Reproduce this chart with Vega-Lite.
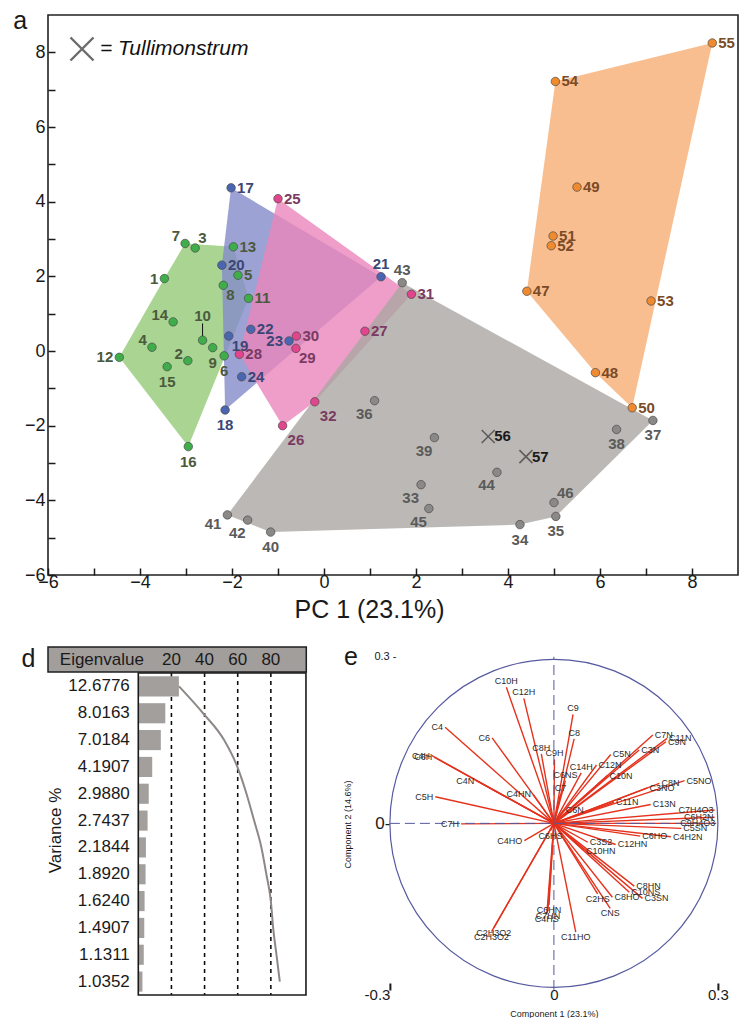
{
"$schema": "https://vega.github.io/schema/vega-lite/v6.json",
"padding": {"left": 11, "top": 7, "right": 0, "bottom": 0},
"background": "white",
"config": {"font": "Liberation Sans", "view": {"stroke": null}, "axis": {"grid": false, "labelColor": "#1a1a1a", "titleColor": "#1a1a1a", "tickColor": "#1a1a1a", "titleFontWeight": "normal"}},
"datasets": {
"pts": [
{"id":1,"grp":"Fresh","x":-3.47,"y":1.94,"hv":2},
{"id":2,"grp":"Fresh","x":-2.96,"y":-0.26},
{"id":3,"grp":"Fresh","x":-2.80,"y":2.76},
{"id":4,"grp":"Fresh","x":-3.74,"y":0.10},
{"id":5,"grp":"Fresh","x":-1.87,"y":2.03},
{"id":6,"grp":"Fresh","x":-2.17,"y":-0.13},
{"id":7,"grp":"Fresh","x":-3.02,"y":2.88,"hv":3},
{"id":8,"grp":"Fresh","x":-2.19,"y":1.76},
{"id":9,"grp":"Fresh","x":-2.42,"y":0.09},
{"id":10,"grp":"Fresh","x":-2.64,"y":0.29},
{"id":11,"grp":"Fresh","x":-1.64,"y":1.41,"hv":5},
{"id":12,"grp":"Fresh","x":-4.45,"y":-0.17,"hv":1},
{"id":13,"grp":"Fresh","x":-1.97,"y":2.79,"hv":4},
{"id":14,"grp":"Fresh","x":-3.28,"y":0.78},
{"id":15,"grp":"Fresh","x":-3.41,"y":-0.42},
{"id":16,"grp":"Fresh","x":-2.95,"y":-2.56,"hv":6},
{"id":17,"grp":"200°C/250 bar","x":-2.02,"y":4.37,"hv":1},
{"id":18,"grp":"200°C/250 bar","x":-2.15,"y":-1.58,"hv":3},
{"id":19,"grp":"200°C/250 bar","x":-2.07,"y":0.40},
{"id":20,"grp":"200°C/250 bar","x":-2.22,"y":2.30,"hv":4},
{"id":21,"grp":"200°C/250 bar","x":1.24,"y":1.99,"hv":2},
{"id":22,"grp":"200°C/250 bar","x":-1.59,"y":0.58},
{"id":23,"grp":"200°C/250 bar","x":-0.76,"y":0.27},
{"id":24,"grp":"200°C/250 bar","x":-1.79,"y":-0.69},
{"id":25,"grp":"250°C/250 bar","x":-1.00,"y":4.08,"hv":1},
{"id":26,"grp":"250°C/250 bar","x":-0.90,"y":-2.00,"hv":4},
{"id":27,"grp":"250°C/250 bar","x":0.89,"y":0.53},
{"id":28,"grp":"250°C/250 bar","x":-1.84,"y":-0.09,"hv":5},
{"id":29,"grp":"250°C/250 bar","x":-0.61,"y":0.07},
{"id":30,"grp":"250°C/250 bar","x":-0.60,"y":0.40},
{"id":31,"grp":"250°C/250 bar","x":1.90,"y":1.52,"hv":2},
{"id":32,"grp":"250°C/250 bar","x":-0.20,"y":-1.36,"hv":3},
{"id":33,"grp":"Fossil","x":2.11,"y":-3.58},
{"id":34,"grp":"Fossil","x":4.26,"y":-4.65,"hv":4},
{"id":35,"grp":"Fossil","x":5.04,"y":-4.43,"hv":3},
{"id":36,"grp":"Fossil","x":1.10,"y":-1.33},
{"id":37,"grp":"Fossil","x":7.15,"y":-1.86,"hv":2},
{"id":38,"grp":"Fossil","x":6.36,"y":-2.10},
{"id":39,"grp":"Fossil","x":2.40,"y":-2.32},
{"id":40,"grp":"Fossil","x":-1.16,"y":-4.85,"hv":5},
{"id":41,"grp":"Fossil","x":-2.10,"y":-4.39,"hv":6},
{"id":42,"grp":"Fossil","x":-1.66,"y":-4.53},
{"id":43,"grp":"Fossil","x":1.70,"y":1.83,"hv":1},
{"id":44,"grp":"Fossil","x":3.76,"y":-3.25},
{"id":45,"grp":"Fossil","x":2.28,"y":-4.22},
{"id":46,"grp":"Fossil","x":5.00,"y":-4.06},
{"id":47,"grp":"Negative","x":4.41,"y":1.60,"hv":5},
{"id":48,"grp":"Negative","x":5.90,"y":-0.58,"hv":4},
{"id":49,"grp":"Negative","x":5.50,"y":4.39},
{"id":50,"grp":"Negative","x":6.70,"y":-1.52,"hv":3},
{"id":51,"grp":"Negative","x":4.98,"y":3.08},
{"id":52,"grp":"Negative","x":4.94,"y":2.82},
{"id":53,"grp":"Negative","x":7.11,"y":1.34},
{"id":54,"grp":"Negative","x":5.03,"y":7.22,"hv":1},
{"id":55,"grp":"Negative","x":8.44,"y":8.25,"hv":2},
{"id":56,"grp":"Tullimonstrum","x":3.57,"y":-2.29},
{"id":57,"grp":"Tullimonstrum","x":4.39,"y":-2.83}
],
"eig": [
{"eig":"12.6776","pct":24.5,"cum":24.6},
{"eig":"8.0163","pct":16.3,"cum":39.1},
{"eig":"7.0184","pct":13.6,"cum":51.8},
{"eig":"4.1907","pct":8.4,"cum":59.8},
{"eig":"2.9880","pct":6.3,"cum":65.3},
{"eig":"2.7437","pct":5.6,"cum":69.9},
{"eig":"2.1844","pct":4.6,"cum":74.3},
{"eig":"1.8920","pct":4.4,"cum":77.3},
{"eig":"1.6240","pct":3.8,"cum":80.0},
{"eig":"1.4907","pct":3.6,"cum":81.4},
{"eig":"1.1311","pct":3.3,"cum":83.4},
{"eig":"1.0352","pct":2.5,"cum":85.4}
],
"load": [
{"name":"C10H","x":-0.087,"y":0.245},
{"name":"C12H","x":-0.055,"y":0.225},
{"name":"C9","x":0.035,"y":0.196},
{"name":"C8","x":0.037,"y":0.152},
{"name":"C4","x":-0.199,"y":0.173},
{"name":"C6","x":-0.113,"y":0.154},
{"name":"C8H","x":-0.023,"y":0.125},
{"name":"C9H","x":0.001,"y":0.115},
{"name":"C4H","x":-0.223,"y":0.122},
{"name":"C6H","x":-0.219,"y":0.119},
{"name":"C4N","x":-0.142,"y":0.077},
{"name":"C5H","x":-0.217,"y":0.048},
{"name":"C7H","x":-0.170,"y":-0.001},
{"name":"C4HN","x":-0.038,"y":0.052},
{"name":"C6NS","x":0.021,"y":0.077},
{"name":"C7","x":0.012,"y":0.052},
{"name":"C14H","x":0.050,"y":0.091},
{"name":"C12N","x":0.078,"y":0.105},
{"name":"C5N","x":0.104,"y":0.124},
{"name":"C10N","x":0.098,"y":0.086},
{"name":"C3N","x":0.156,"y":0.132},
{"name":"C7N","x":0.181,"y":0.159},
{"name":"C11N","x":0.207,"y":0.153},
{"name":"C9N","x":0.205,"y":0.147},
{"name":"C8N","x":0.193,"y":0.072},
{"name":"C3NO","x":0.171,"y":0.064},
{"name":"C5NO","x":0.239,"y":0.077},
{"name":"C11N","x":0.110,"y":0.038},
{"name":"C13N","x":0.177,"y":0.034},
{"name":"C6N","x":0.018,"y":0.024},
{"name":"C7H4O3","x":0.294,"y":0.024},
{"name":"C6H2N","x":0.294,"y":0.011},
{"name":"C9H4O3","x":0.297,"y":0.0},
{"name":"C5SN","x":0.233,"y":-0.009},
{"name":"C4H2N","x":0.214,"y":-0.024},
{"name":"C6HO","x":0.158,"y":-0.023},
{"name":"C12HN","x":0.113,"y":-0.038},
{"name":"C3S2","x":0.062,"y":-0.034},
{"name":"C10HN","x":0.055,"y":-0.049},
{"name":"C6HS","x":-0.006,"y":-0.013},
{"name":"C4HO","x":-0.054,"y":-0.031},
{"name":"C8HN","x":0.147,"y":-0.113},
{"name":"C10NS","x":0.138,"y":-0.124},
{"name":"C3SN","x":0.162,"y":-0.135},
{"name":"C8HO","x":0.107,"y":-0.133},
{"name":"C2HS","x":0.080,"y":-0.127},
{"name":"CNS","x":0.103,"y":-0.153},
{"name":"C6HN","x":-0.009,"y":-0.147},
{"name":"C7HN","x":-0.011,"y":-0.158},
{"name":"C4HS","x":-0.013,"y":-0.164},
{"name":"C11HO","x":0.040,"y":-0.196},
{"name":"C2H3O2","x":-0.110,"y":-0.188},
{"name":"C2H3O2","x":-0.114,"y":-0.195}
]
},
"bounds": "flush",
"spacing": 72,
"vconcat": [
{
"width": 690, "height": 560,
"view": {"stroke": "#222222", "strokeWidth": 1.6},
"data": {"name": "pts"},
"encoding": {
"x": {"field": "x", "type": "quantitative", "scale": {"domain": [-6, 9], "nice": false, "zero": false},
"axis": {"values": [-6,-5,-4,-3,-2,-1,0,1,2,3,4,5,6,7,8], "labelExpr": "datum.value % 2 == 0 ? datum.label : ''", "domain": false, "tickSize": -7, "tickWidth": 1.5, "labelFontSize": 18, "labelPadding": 5, "labelFlush": false, "labelOverlap": false, "title": "PC 1 (23.1%)", "titleFontSize": 25, "titleX": 321, "titleY": 42, "titleAlign": "center", "titleBaseline": "alphabetic"}},
"y": {"field": "y", "type": "quantitative", "scale": {"domain": [-6, 9], "nice": false, "zero": false},
"axis": {"values": [-6,-5,-4,-3,-2,-1,0,1,2,3,4,5,6,7,8], "labelExpr": "datum.value % 2 == 0 ? datum.label : ''", "domain": false, "tickSize": -7, "tickWidth": 1.5, "labelFontSize": 18, "labelPadding": 10, "labelFlush": false, "labelOverlap": false, "title": "a", "titleAngle": 0, "titleX": -28.4, "titleY": 5, "titleAlign": "center", "titleBaseline": "middle", "titleFontSize": 25}}
},
"resolve": {"scale": {"color": "independent"}},
"layer": [
{"transform": [{"filter": "isValid(datum.hv)"}],
"mark": {"type": "line", "filled": true, "interpolate": "linear-closed", "fillOpacity": 0.8, "strokeWidth": 0},
"encoding": {"order": {"field": "hv"}, "color": {"field": "grp", "type": "nominal", "scale": {"domain": ["Fresh","200°C/250 bar","250°C/250 bar","Fossil","Negative"], "range": ["#94c977","#858bcb","#ea86ba","#aaa6a3","#f7ae73"]}, "legend": null}}},
{"data": {"values": [{}]}, "mark": {"type": "rule", "color": "#f39b7d", "strokeDash": [6, 4], "strokeWidth": 1.3}, "encoding": {"x": {"datum": 0}, "y": {"datum": -6}, "y2": {"datum": 9}}},
{"data": {"values": [{}]}, "mark": {"type": "rule", "color": "#f39b7d", "strokeDash": [6, 4], "strokeWidth": 1.3}, "encoding": {"y": {"datum": 0}, "x": {"datum": -6}, "x2": {"datum": 9}}},
{"transform": [{"filter": "datum.id == 10"}], "mark": {"type": "rule", "color": "#111111", "strokeWidth": 1}, "encoding": {"y2": {"datum": 0.74}}},
{"transform": [{"filter": "datum.grp != 'Tullimonstrum'"}],
"mark": {"type": "point", "shape": "circle", "filled": true, "size": 72, "stroke": "#4a4a4a", "strokeWidth": 0.7, "opacity": 1},
"encoding": {"color": {"field": "grp", "type": "nominal", "scale": {"domain": ["Fresh","200°C/250 bar","250°C/250 bar","Fossil","Negative"], "range": ["#3fae4a","#4b66b1","#e0458e","#8b8987","#f08a2f"]}, "legend": null}}},
{"transform": [{"filter": "datum.grp == 'Tullimonstrum'"}],
"mark": {"type": "point", "filled": false, "size": 170, "strokeWidth": 1.6, "color": "#5f5c5b", "opacity": 1},
"encoding": {"shape": {"field": "grp", "type": "nominal", "scale": {"domain": ["Tullimonstrum"], "range": ["M-1,-1L1,1M-1,1L1,-1"]},
"legend": {"orient": "top-left", "offset": 21, "title": null, "padding": 0, "labelExpr": "'= ' + datum.label", "labelFontSize": 21, "labelFontStyle": "italic", "labelColor": "#111111", "labelOffset": 5, "symbolSize": 529, "symbolStrokeWidth": 2.4, "symbolStrokeColor": "#6d6a6a", "symbolFillColor": "transparent", "symbolOpacity": 1}}}},
{"encoding": {"text": {"field": "id"}, "color": {"field": "grp", "type": "nominal", "scale": {"domain": ["Fresh","200°C/250 bar","250°C/250 bar","Fossil","Negative","Tullimonstrum"], "range": ["#4b5a3c","#3b4675","#7a3a62","#5a5a5a","#7a4b27","#1a1a1a"]}, "legend": null}},
"layer": [
{"transform": [{"filter": "indexof([17,25,13,20,5,11,22,28,30,24,55,54,49,51,52,47,53,48,50,56,57,31,27], datum.id) >= 0"}], "mark": {"type": "text", "fontSize": 15, "fontWeight": "bold", "align": "left", "baseline": "middle", "dx": 6}},
{"transform": [{"filter": "indexof([8,19,29], datum.id) >= 0"}], "mark": {"type": "text", "fontSize": 15, "fontWeight": "bold", "align": "left", "baseline": "middle", "dx": 3, "dy": 10}},
{"transform": [{"filter": "indexof([26,32], datum.id) >= 0"}], "mark": {"type": "text", "fontSize": 15, "fontWeight": "bold", "align": "left", "baseline": "middle", "dx": 5, "dy": 14}},
{"transform": [{"filter": "indexof([12,1,23], datum.id) >= 0"}], "mark": {"type": "text", "fontSize": 15, "fontWeight": "bold", "align": "right", "baseline": "middle", "dx": -6}},
{"transform": [{"filter": "indexof([2,7,14,4], datum.id) >= 0"}], "mark": {"type": "text", "fontSize": 15, "fontWeight": "bold", "align": "right", "baseline": "middle", "dx": -5, "dy": -7}},
{"transform": [{"filter": "indexof([41], datum.id) >= 0"}], "mark": {"type": "text", "fontSize": 15, "fontWeight": "bold", "align": "right", "baseline": "middle", "dx": -6, "dy": 9}},
{"transform": [{"filter": "indexof([15,16,18,9,6,34,35,38,37,40], datum.id) >= 0"}], "mark": {"type": "text", "fontSize": 15, "fontWeight": "bold", "align": "center", "baseline": "middle", "dy": 15}},
{"transform": [{"filter": "indexof([36,39,33,45,44,42], datum.id) >= 0"}], "mark": {"type": "text", "fontSize": 15, "fontWeight": "bold", "align": "right", "baseline": "middle", "dx": -2, "dy": 13}},
{"transform": [{"filter": "indexof([21,43], datum.id) >= 0"}], "mark": {"type": "text", "fontSize": 15, "fontWeight": "bold", "align": "center", "baseline": "middle", "dy": -13}},
{"transform": [{"filter": "indexof([3,46], datum.id) >= 0"}], "mark": {"type": "text", "fontSize": 15, "fontWeight": "bold", "align": "left", "baseline": "middle", "dx": 3, "dy": -10}},
{"transform": [{"filter": "indexof([10], datum.id) >= 0"}], "mark": {"type": "text", "fontSize": 15, "fontWeight": "bold", "align": "center", "baseline": "middle", "dy": -24}}
]},
{"data": {"values": [{}]}, "mark": {"type": "text", "fontSize": 23, "color": "#6cbf47"}, "encoding": {"x": {"datum": -4.52}, "y": {"datum": -1.37}, "text": {"value": "Fresh"}}},
{"data": {"values": [{}]}, "mark": {"type": "text", "fontSize": 23, "color": "#5a6bb6"}, "encoding": {"x": {"datum": -3.83}, "y": {"datum": 3.85}, "text": {"value": "200°C/250 bar"}}},
{"data": {"values": [{}]}, "mark": {"type": "text", "fontSize": 23, "color": "#e8659f"}, "encoding": {"x": {"datum": 1.93}, "y": {"datum": 3.46}, "text": {"value": "250°C/250 bar"}}},
{"data": {"values": [{}]}, "mark": {"type": "text", "fontSize": 23, "color": "#ea8a43"}, "encoding": {"x": {"datum": 5.26}, "y": {"datum": 8.18}, "text": {"value": "Negative"}}},
{"data": {"values": [{}]}, "mark": {"type": "text", "fontSize": 23, "color": "#8a8a8a"}, "encoding": {"x": {"datum": 6.58}, "y": {"datum": -4.21}, "text": {"value": "Fossil"}}}
]
},
{
"bounds": "flush",
"spacing": 341.9,
"hconcat": [
{
"bounds": "flush",
"spacing": 1,
"vconcat": [
{
"width": 258.3, "height": 25,
"view": {"fill": "#a29e9c", "stroke": "#1f1f1f", "strokeWidth": 1.5},
"data": {"values": [{"v": 20}, {"v": 40}, {"v": 60}, {"v": 80}]},
"mark": {"type": "text", "fontSize": 17, "baseline": "middle", "color": "#1a1a1a"},
"encoding": {
"x": {"field": "v", "type": "quantitative", "scale": {"domain": [-54.5, 101.4], "nice": false, "zero": false}, "axis": {"title": "Eigenvalue", "labels": false, "ticks": false, "domain": false, "titleX": 11.3, "titleY": -12.5, "titleAlign": "left", "titleBaseline": "middle", "titleFontSize": 17}},
"y": {"datum": 0, "type": "quantitative", "scale": {"domain": [-1, 1]}, "axis": {"title": "d", "labels": false, "ticks": false, "domain": false, "titleAngle": 0, "titleX": -20, "titleY": 11, "titleAlign": "center", "titleBaseline": "middle", "titleFontSize": 25}},
"text": {"field": "v", "type": "quantitative"}
}
},
{
"width": 258.3, "height": 322,
"data": {"name": "eig"},
"layer": [
{"data": {"values": [{"v": 20}, {"v": 40}, {"v": 60}, {"v": 80}]}, "mark": {"type": "rule", "color": "#111111", "strokeDash": [4, 4], "strokeWidth": 1.6}, "encoding": {"x": {"field": "v", "type": "quantitative", "scale": {"domain": [-54.5, 101.4], "nice": false, "zero": false}, "axis": null}}},
{"mark": {"type": "bar", "color": "#a39f9c"},
"encoding": {
"x": {"field": "pct", "type": "quantitative", "scale": {"domain": [-54.5, 101.4], "nice": false, "zero": false}, "axis": null},
"x2": {"datum": 0},
"y": {"field": "eig", "type": "ordinal", "sort": null, "scale": {"paddingInner": 0.25, "paddingOuter": 0.125},
"axis": {"offset": -90.3, "domain": false, "ticks": false, "labelPadding": 9, "labelFontSize": 17, "title": "Variance %", "titleFontSize": 17, "titleAngle": -90, "titleX": -83, "titleY": 157, "titleAlign": "center", "titleBaseline": "middle"}}}},
{"mark": {"type": "line", "color": "#8d8885", "strokeWidth": 2, "interpolate": "monotone"},
"encoding": {
"x": {"field": "cum", "type": "quantitative", "scale": {"domain": [-54.5, 101.4], "nice": false, "zero": false}, "axis": null},
"y": {"field": "eig", "type": "ordinal", "sort": null}}},
{"data": {"values": [{}]}, "mark": {"type": "rect", "filled": false, "color": "#1a1a1a", "strokeWidth": 1.6},
"encoding": {"x": {"datum": 0}, "x2": {"datum": 101.2}}}
]
}
]
},
{
"width": 328, "height": 343,
"data": {"name": "load"},
"title": {"text": "e", "anchor": "start", "frame": "group", "fontSize": 25, "fontWeight": "normal", "color": "#1a1a1a", "offset": 0, "baseline": "bottom", "dx": -46, "dy": 48},
"encoding": {
"x": {"field": "x", "type": "quantitative", "scale": {"domain": [-0.3, 0.3], "nice": false, "zero": false},
"axis": {"values": [-0.3, 0, 0.3], "labelExpr": "datum.value == 0 ? '0' : (datum.value < 0 ? '-0.3' : '0.3')", "domain": false, "tickSize": -7, "tickWidth": 2, "tickOpacity": {"condition": {"test": "datum.value == 0", "value": 0}, "value": 1}, "labelFontSize": 15, "labelAlign": {"condition": {"test": "datum.value < 0", "value": "right"}, "value": "center"}, "labelPadding": 4, "labelFlush": false, "labelOverlap": false, "title": "Component 1 (23.1%)", "titleFontSize": 9, "titleY": 26, "titleBaseline": "alphabetic"}},
"y": {"field": "y", "type": "quantitative", "scale": {"domain": [-0.3, 0.3175], "nice": false, "zero": false},
"axis": {"values": [0.3, 0], "labelExpr": "datum.value == 0 ? '0-' : '0.3 -'", "offset": 0, "domain": false, "ticks": false, "labelFontSize": {"condition": {"test": "datum.value == 0", "value": 17}, "value": 11}, "labelPadding": {"condition": {"test": "datum.value == 0", "value": 0}, "value": -6}, "labelFlush": false, "labelOverlap": false, "title": "Component 2 (14.6%)", "titleFontSize": 9, "titleAngle": -90, "titleX": -42.7, "titleY": 177, "titleAlign": "center", "titleBaseline": "middle"}}
},
"layer": [
{"mark": {"type": "rule", "color": "#e5321d", "strokeWidth": 1.4}, "encoding": {"x": {"datum": 0}, "y": {"datum": 0}, "x2": {"field": "x"}, "y2": {"field": "y"}}},
{"transform": [{"filter": "datum.name == 'C7H'"}], "mark": {"type": "point", "shape": "circle", "filled": false, "size": 107584, "color": "#56599f", "strokeWidth": 1.2, "opacity": 1}, "encoding": {"x": {"datum": 0}, "y": {"datum": 0}}},
{"transform": [{"filter": "datum.name == 'C7H'"}], "mark": {"type": "rule", "color": "#56599f", "strokeDash": [10, 5], "strokeWidth": 1}, "encoding": {"x": {"datum": 0}, "y": {"datum": -0.3}, "y2": {"datum": 0.3}}},
{"transform": [{"filter": "datum.name == 'C7H'"}], "mark": {"type": "rule", "color": "#56599f", "strokeDash": [10, 5], "strokeWidth": 1}, "encoding": {"y": {"datum": 0}, "x": {"datum": -0.3}, "x2": {"datum": 0.3}}},
{"mark": {"type": "text", "fontSize": 9, "color": "#2b2b2b",
"align": {"expr": "datum.x > 0.26 ? 'right' : (abs(datum.x) > abs(datum.y) * 0.7 ? (datum.x > 0 ? 'left' : 'right') : 'center')"},
"baseline": {"expr": "abs(datum.x) > abs(datum.y) * 0.7 ? 'middle' : (datum.y > 0 ? 'bottom' : 'top')"},
"dx": {"expr": "datum.x > 0.26 ? -1 : (abs(datum.x) > abs(datum.y) * 0.7 ? (datum.x > 0 ? 2 : -2) : 0)"},
"dy": {"expr": "abs(datum.x) > abs(datum.y) * 0.7 ? 0 : (datum.y > 0 ? -1 : 1)"}},
"encoding": {"text": {"field": "name"}}}
]
}
]
}
]
}
